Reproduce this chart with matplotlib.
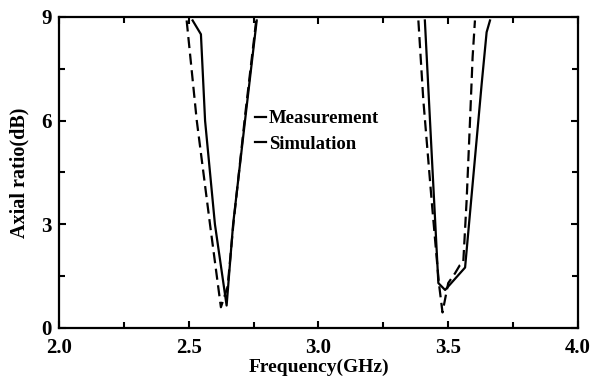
import numpy as np
import matplotlib.pyplot as plt
from matplotlib.ticker import MultipleLocator, FormatStrFormatter

# Axial ratio, lower band (2.6 GHz)
meas_f1 = [2.515, 2.547, 2.563, 2.601, 2.646, 2.671, 2.720, 2.762]
meas_ar1 = [8.9, 8.5, 6.0, 3.0, 0.65, 3.0, 6.2, 8.9]
sim_f1 = [2.492, 2.531, 2.582, 2.624, 2.650, 2.672, 2.718, 2.760]
sim_ar1 = [8.9, 6.0, 3.0, 0.6, 1.2, 3.0, 6.2, 8.9]

# Axial ratio, upper band (3.5 GHz)
meas_f2 = [3.410, 3.440, 3.462, 3.488, 3.565, 3.629, 3.648, 3.661]
meas_ar2 = [8.9, 4.5, 1.3, 1.1, 1.75, 7.07, 8.56, 8.9]
sim_f2 = [3.385, 3.404, 3.436, 3.464, 3.478, 3.500, 3.526, 3.545, 3.558,
          3.571, 3.584, 3.594, 3.603]
sim_ar2 = [8.9, 6.6, 3.7, 1.3, 0.45, 1.3, 1.58, 1.82, 1.9, 3.7, 6.0, 7.84, 8.9]

plt.rcParams['font.family'] = 'Liberation Serif'
plt.rcParams['font.weight'] = 'bold'

fig = plt.figure(figsize=(5.94, 3.76), dpi=100)
ax = fig.add_axes([0.0993, 0.1277, 0.8737, 0.8271])

dash = (0, (5, 2.5))
ax.plot(meas_f1, meas_ar1, color='black', lw=1.6, label='Measurement')
ax.plot(sim_f1, sim_ar1, color='black', lw=1.6, ls=dash, label='Simulation')
ax.plot(meas_f2, meas_ar2, color='black', lw=1.6)
ax.plot(sim_f2, sim_ar2, color='black', lw=1.6, ls=dash)

ax.set_xlim(2.0, 4.0)
ax.set_ylim(0, 9)
ax.xaxis.set_major_locator(MultipleLocator(0.5))
ax.xaxis.set_minor_locator(MultipleLocator(0.25))
ax.xaxis.set_major_formatter(FormatStrFormatter('%.1f'))
ax.yaxis.set_major_locator(MultipleLocator(3))
ax.yaxis.set_minor_locator(MultipleLocator(1.5))
ax.yaxis.set_major_formatter(FormatStrFormatter('%d'))
ax.tick_params(which='both', direction='in', top=True, right=True, width=1.5)
ax.tick_params(which='major', length=5, labelsize=15)
ax.tick_params(which='minor', length=4)
ax.tick_params(axis='x', which='major', pad=7.5)
ax.tick_params(axis='y', which='major', pad=5)
for s in ax.spines.values():
    s.set_linewidth(1.6)

ax.set_xlabel('Frequency(GHz)', fontsize=14, fontweight='bold', labelpad=0.5)
ax.set_ylabel('Axial ratio(dB)', fontsize=14.5, fontweight='bold', labelpad=9)

leg = ax.legend(loc='upper left', bbox_to_anchor=(0.345, 0.755), frameon=False,
                handlelength=0.6, handletextpad=0.15, labelspacing=0.45,
                prop={'size': 13.5, 'weight': 'bold'})
for h in leg.get_lines():
    h.set_linestyle('-')

fig.savefig('out.png', dpi=100)
